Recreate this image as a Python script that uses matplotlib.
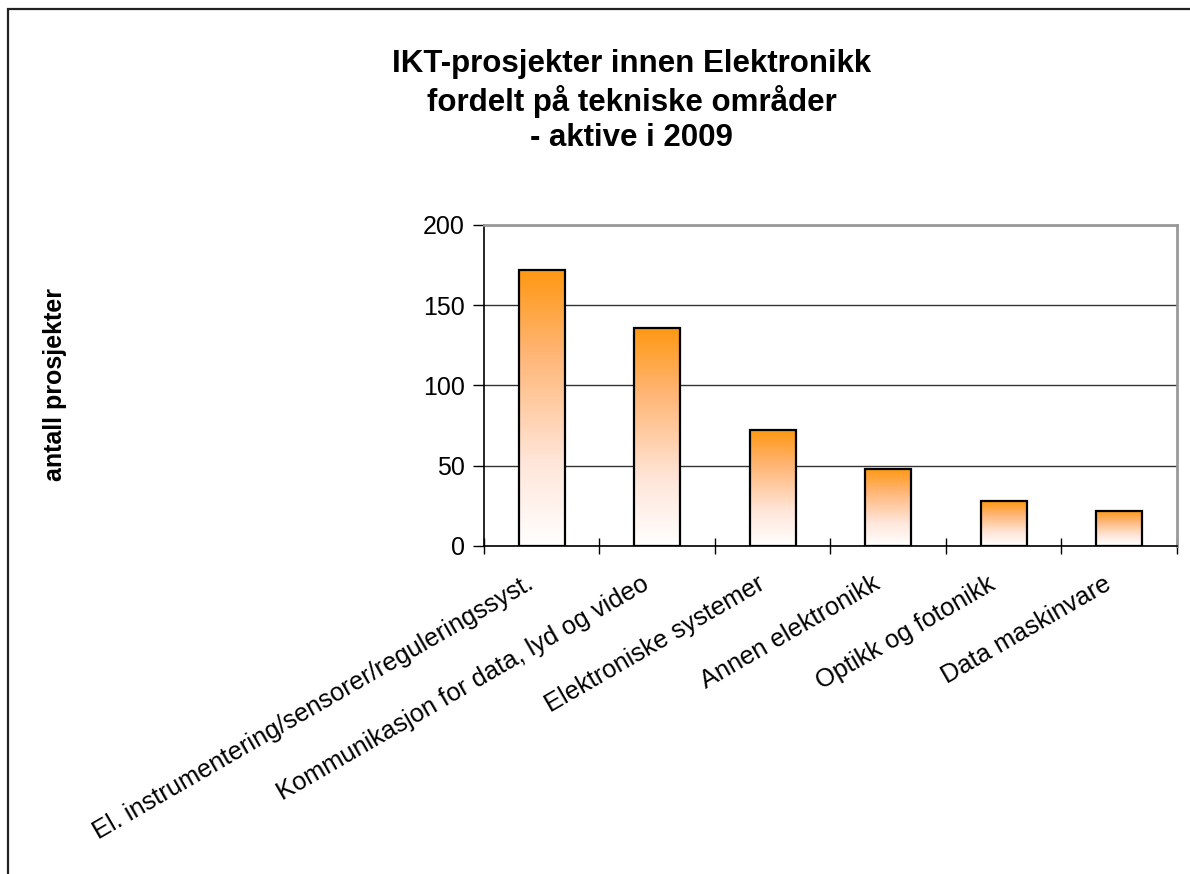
import numpy as np
import matplotlib
matplotlib.use("Agg")
import matplotlib.pyplot as plt
import matplotlib.transforms as mtransforms
from matplotlib.colors import LinearSegmentedColormap
from matplotlib.patches import Rectangle

plt.rcParams['font.family'] = ['Liberation Sans', 'DejaVu Sans']

categories = ["El. instrumentering/sensorer/reguleringssyst.",
              "Kommunikasjon for data, lyd og video",
              "Elektroniske systemer",
              "Annen elektronikk",
              "Optikk og fotonikk",
              "Data maskinvare"]
values = [172, 136, 72, 48, 28, 22]
yticks = [0, 50, 100, 150, 200]

title = "IKT-prosjekter innen Elektronikk\nfordelt på tekniske områder\n- aktive i 2009"
ylabel = "antall prosjekter"

fig = plt.figure(figsize=(11.9, 8.74), dpi=100)
ax = fig.add_axes([0.4067, 0.3753, 0.5823, 0.3673])

# outer chart frame (left/top visible)
fig.patches.append(Rectangle((8 / 1190, -0.1), 1.2, 1 - 9 / 874 + 0.1,
                             transform=fig.transFigure, fill=False,
                             edgecolor='#222222', linewidth=1.6))

x = np.arange(len(values))
bars = ax.bar(x, values, width=0.4, facecolor='none', edgecolor='black',
              linewidth=1.6, zorder=3)

cmap = LinearSegmentedColormap.from_list(
    'og', [(0, '#FFFFFF'), (0.3, '#FFE6DA'), (0.7, '#FFB574'), (1, '#FF9812')])
grad = np.linspace(0, 1, 256).reshape(-1, 1)
for b in bars:
    x0, w, h = b.get_x(), b.get_width(), b.get_height()
    im = ax.imshow(grad, cmap=cmap, origin='lower', aspect='auto',
                   extent=[x0, x0 + w, 0, h], zorder=2, interpolation='bilinear')
    im.set_clip_path(b)

ax.set_xlim(-0.5, len(values) - 0.5)
ax.set_ylim(0, 200)
ax.set_yticks(yticks)
ax.set_yticklabels([str(v) for v in yticks], fontsize=18)
ax.yaxis.grid(True, color='#333333', linewidth=1.0, zorder=1)
ax.set_axisbelow(True)

ax.set_xticks(x)
ax.set_xticklabels(categories, fontsize=18.3, rotation=30, ha='right',
                   va='center', rotation_mode='anchor')
ax.tick_params(axis='x', length=0, pad=26)
shift = mtransforms.ScaledTranslation(-10 / 100, 0, fig.dpi_scale_trans)
for lab in ax.get_xticklabels():
    lab.set_transform(lab.get_transform() + shift)
ax.set_xticks(np.arange(len(values) + 1) - 0.5, minor=True)
ax.tick_params(axis='x', which='minor', direction='inout', length=12,
               width=1.0, color='black')
ax.tick_params(axis='y', direction='out', length=8, width=1.0, pad=6)

for s in ['top', 'right']:
    ax.spines[s].set_color('#999999')
    ax.spines[s].set_linewidth(2.0)
for s in ['left', 'bottom']:
    ax.spines[s].set_color('black')
    ax.spines[s].set_linewidth(1.2)

fig.text(0.531, 0.944, title, ha='center', va='top', fontsize=22.5,
         fontweight='bold', linespacing=1.22)
fig.text(0.046, 0.5595, ylabel, rotation=90, ha='center', va='center',
         fontsize=18, fontweight='bold')

fig.savefig('out.png', dpi=100)
